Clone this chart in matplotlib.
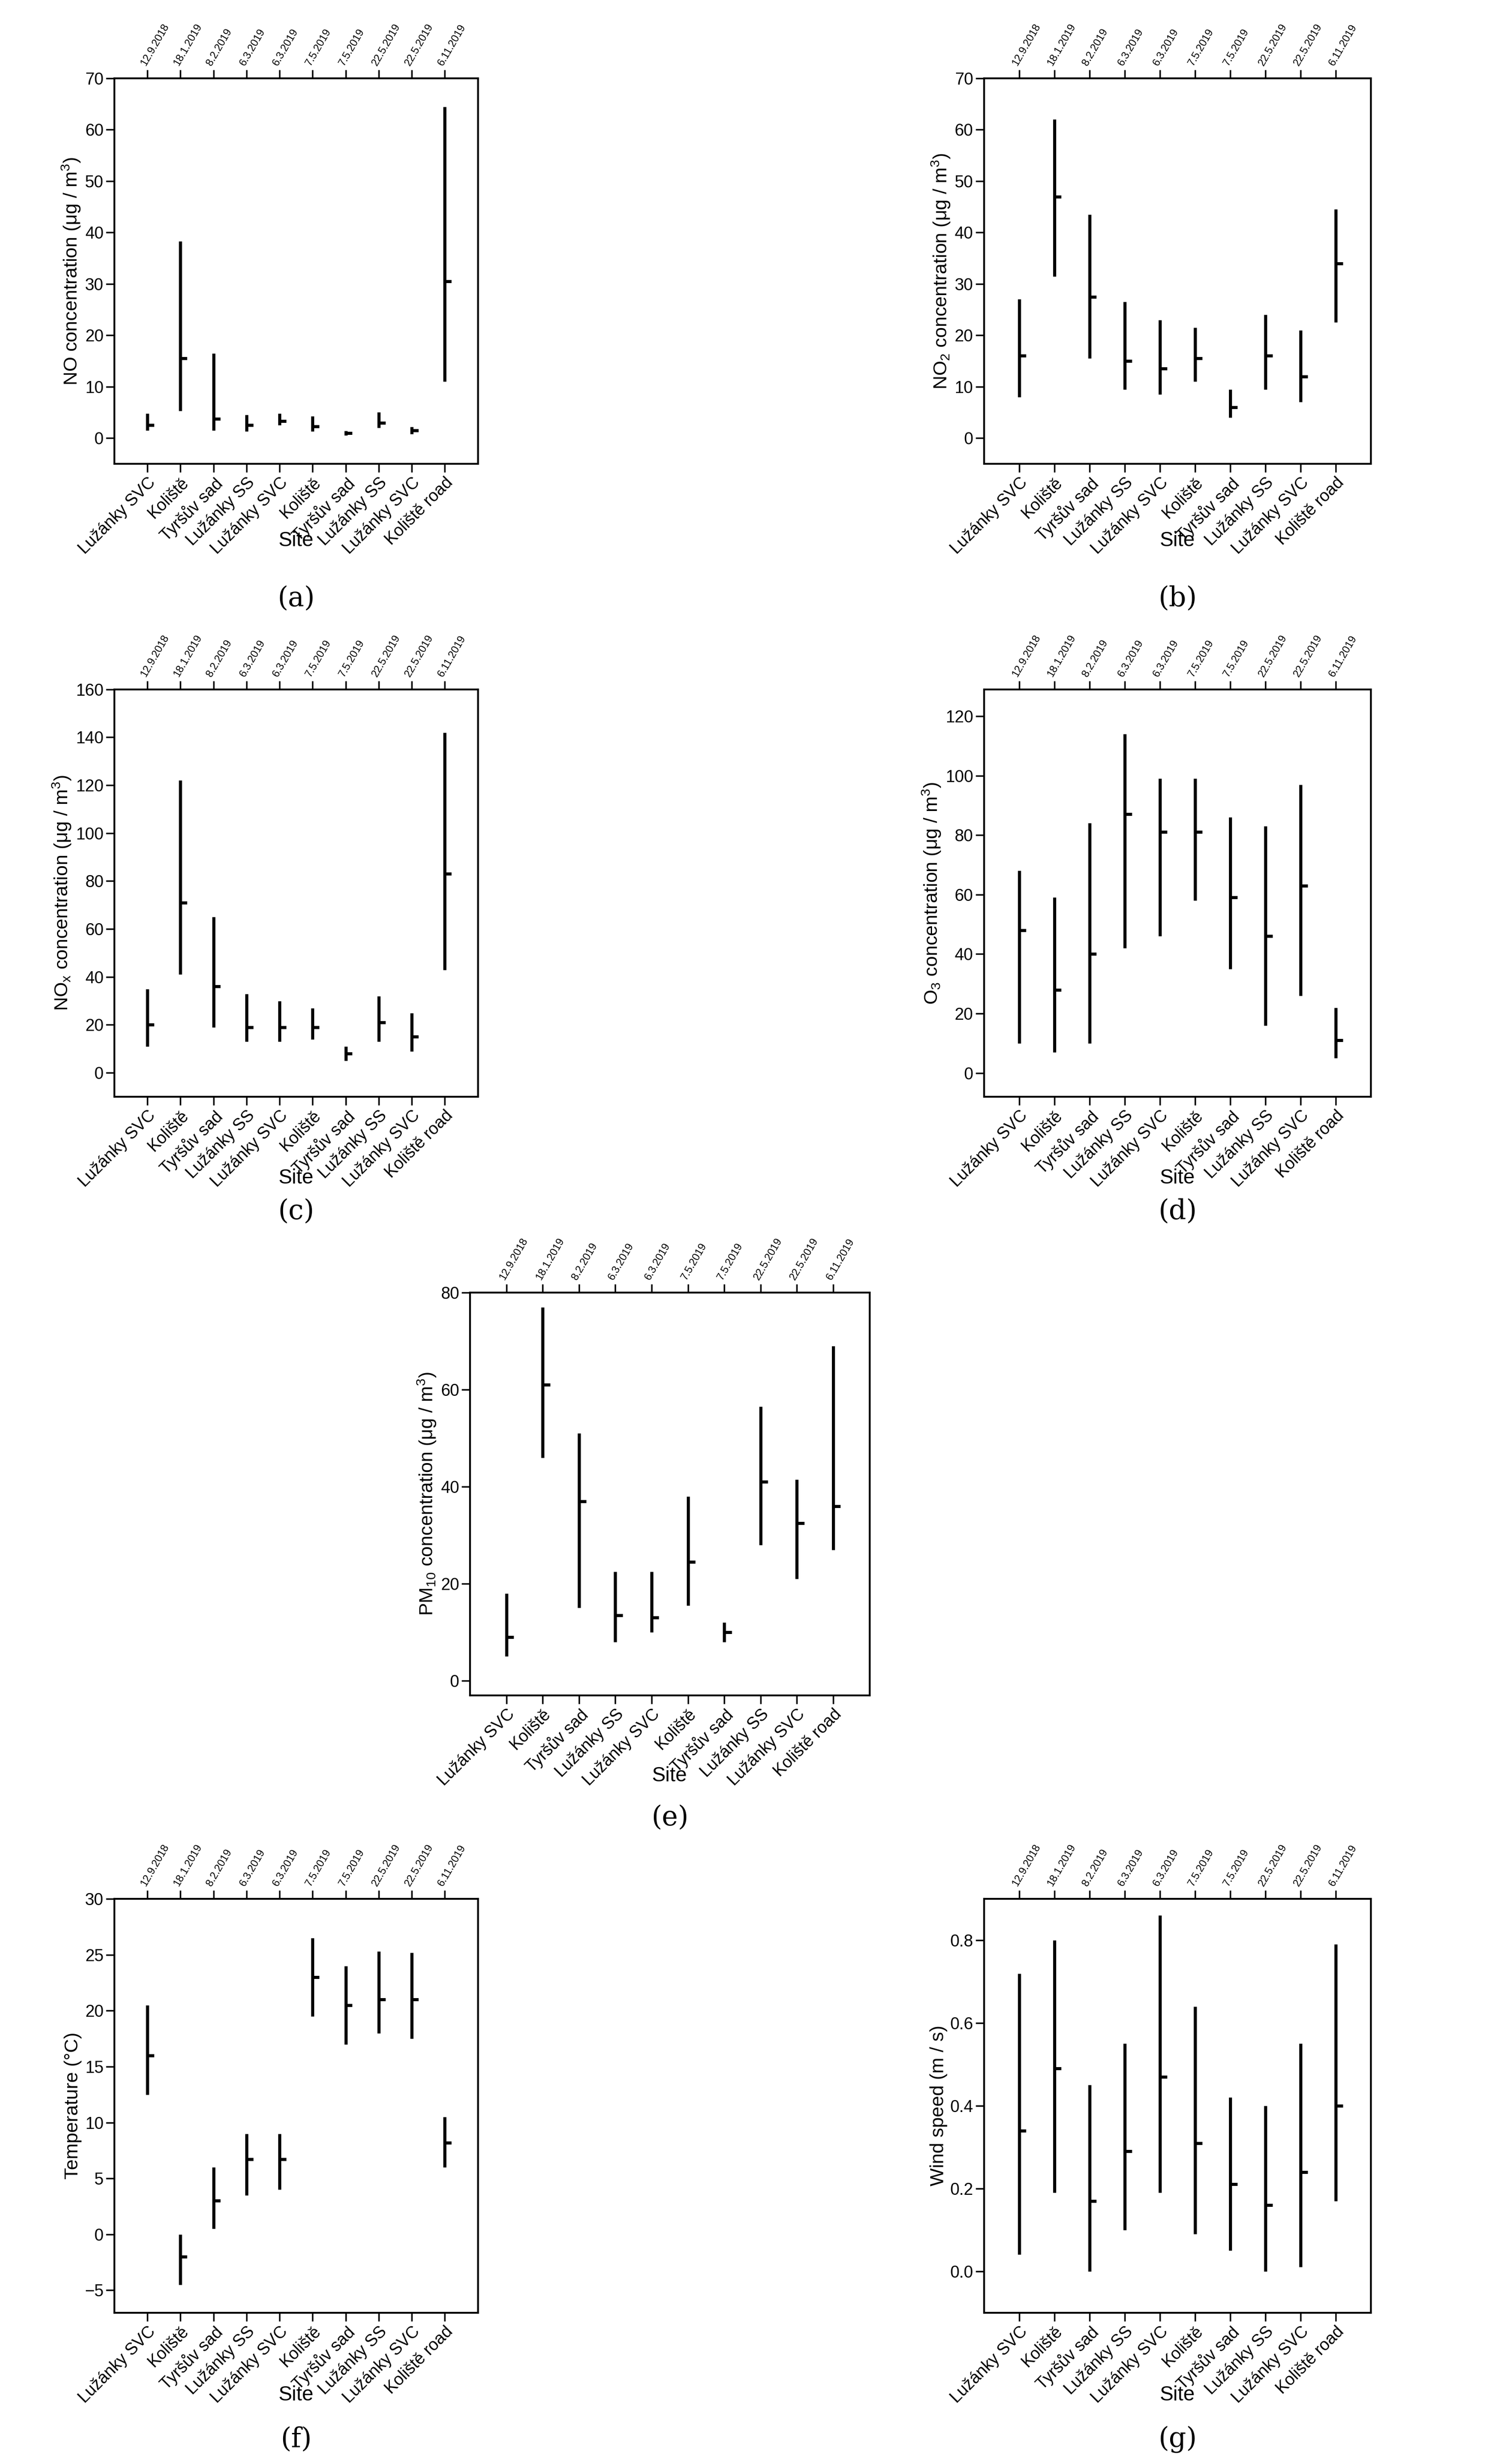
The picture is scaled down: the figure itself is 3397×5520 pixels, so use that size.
import matplotlib.pyplot as plt
import numpy as np

plt.rcParams['font.family'] = ['Liberation Sans', 'DejaVu Sans']
plt.rcParams['mathtext.default'] = 'regular'

sites = ["Lužánky SVC", "Koliště", "Tyršův sad", "Lužánky SS", "Lužánky SVC",
         "Koliště", "Tyršův sad", "Lužánky SS", "Lužánky SVC", "Koliště road"]
dates = ["12.9.2018", "18.1.2019", "8.2.2019", "6.3.2019", "6.3.2019",
         "7.5.2019", "7.5.2019", "22.5.2019", "22.5.2019", "6.11.2019"]

no_min = [1.5, 5.3, 1.5, 1.3, 2.5, 1.3, 0.5, 2.0, 0.8, 11]
no_mean = [2.5, 15.5, 3.7, 2.5, 3.3, 2.3, 1.0, 3.0, 1.5, 30.5]
no_max = [4.8, 38.3, 16.5, 4.5, 4.8, 4.3, 1.4, 5.0, 2.2, 64.5]

no2_min = [8, 31.5, 15.5, 9.5, 8.5, 11, 4, 9.5, 7, 22.5]
no2_mean = [16, 47, 27.5, 15, 13.5, 15.5, 6, 16, 12, 34]
no2_max = [27, 62, 43.5, 26.5, 23, 21.5, 9.5, 24, 21, 44.5]

nox_min = [11, 41, 19, 13, 13, 14, 5, 13, 9, 43]
nox_mean = [20, 71, 36, 19, 19, 19, 8, 21, 15, 83]
nox_max = [35, 122, 65, 33, 30, 27, 11, 32, 25, 142]

o3_min = [10, 7, 10, 42, 46, 58, 35, 16, 26, 5]
o3_mean = [48, 28, 40, 87, 81, 81, 59, 46, 63, 11]
o3_max = [68, 59, 84, 114, 99, 99, 86, 83, 97, 22]

pm_min = [5, 46, 15, 8, 10, 15.5, 8, 28, 21, 27]
pm_mean = [9, 61, 37, 13.5, 13, 24.5, 10, 41, 32.5, 36]
pm_max = [18, 77, 51, 22.5, 22.5, 38, 12, 56.5, 41.5, 69]

t_min = [12.5, -4.5, 0.5, 3.5, 4, 19.5, 17, 18, 17.5, 6]
t_mean = [16, -2, 3, 6.7, 6.7, 23, 20.5, 21, 21, 8.2]
t_max = [20.5, 0, 6, 9, 9, 26.5, 24, 25.3, 25.2, 10.5]

ws_min = [0.04, 0.19, 0.0, 0.10, 0.19, 0.09, 0.05, 0.0, 0.01, 0.17]
ws_mean = [0.34, 0.49, 0.17, 0.29, 0.47, 0.31, 0.21, 0.16, 0.24, 0.40]
ws_max = [0.72, 0.80, 0.45, 0.55, 0.86, 0.64, 0.42, 0.40, 0.55, 0.79]

W, H = 3397, 5520
fig = plt.figure(figsize=(W / 100, H / 100), dpi=100)
s = 3.52  # display -> pixel scale


def panel(x0, x1, y0, y1, lo, mean, hi, ylim, yticks, ylabel, tag, tagy):
    ax = fig.add_axes([x0 * s / W, 1 - y1 * s / H, (x1 - x0) * s / W, (y1 - y0) * s / H])
    x = np.arange(1, 11)
    ax.vlines(x, lo, hi, color='black', lw=5)
    ax.hlines(mean, x, x + 0.2, color='black', lw=5)
    ax.set_xlim(0, 11)
    ax.set_ylim(*ylim)
    ax.set_yticks(yticks)
    ax.set_xticks(x)
    ax.set_xticklabels(sites, rotation=45, ha='right', rotation_mode='anchor', fontsize=27)
    ax.tick_params(axis='both', labelsize=27, width=2.5, length=14, direction='out')
    ax.set_ylabel(ylabel, fontsize=31)
    ax.text(0.5, -0.2, "Site", transform=ax.transAxes, ha='center', va='center', fontsize=33)
    for sp in ax.spines.values():
        sp.set_linewidth(3)
    top = ax.secondary_xaxis('top')
    top.set_xticks(x)
    top.set_xticklabels(dates, rotation=60, ha='left', rotation_mode='anchor', fontsize=17)
    top.tick_params(width=2.5, length=14)
    fig.text((x0 + x1) / 2 * s / W, 1 - tagy * s / H, tag, ha='center', va='center',
             fontsize=44, family='DejaVu Serif')
    return ax


L1, R1, L2, R2 = 73, 305, 628, 875
panel(L1, R1, 50, 296, no_min, no_mean, no_max, (-5, 70), range(0, 71, 10),
      "NO concentration (μg / m$^3$)", "(a)", 382)
panel(L2, R2, 50, 296, no2_min, no2_mean, no2_max, (-5, 70), range(0, 71, 10),
      "NO$_2$ concentration (μg / m$^3$)", "(b)", 382)
panel(L1, R1, 440, 700, nox_min, nox_mean, nox_max, (-10, 160), range(0, 161, 20),
      "NO$_x$ concentration (μg / m$^3$)", "(c)", 773)
panel(L2, R2, 440, 700, o3_min, o3_mean, o3_max, (-8, 129), range(0, 121, 20),
      "O$_3$ concentration (μg / m$^3$)", "(d)", 773)
panel(300, 555, 825, 1082, pm_min, pm_mean, pm_max, (-3, 80), range(0, 81, 20),
      "PM$_{10}$ concentration (μg / m$^3$)", "(e)", 1160)
panel(L1, R1, 1212, 1476, t_min, t_mean, t_max, (-7, 30), range(-5, 31, 5),
      "Temperature (°C)", "(f)", 1557)
panel(L2, R2, 1212, 1476, ws_min, ws_mean, ws_max, (-0.1, 0.9), np.arange(0, 0.81, 0.2),
      "Wind speed (m / s)", "(g)", 1557)

fig.savefig("out.png", dpi=100)
